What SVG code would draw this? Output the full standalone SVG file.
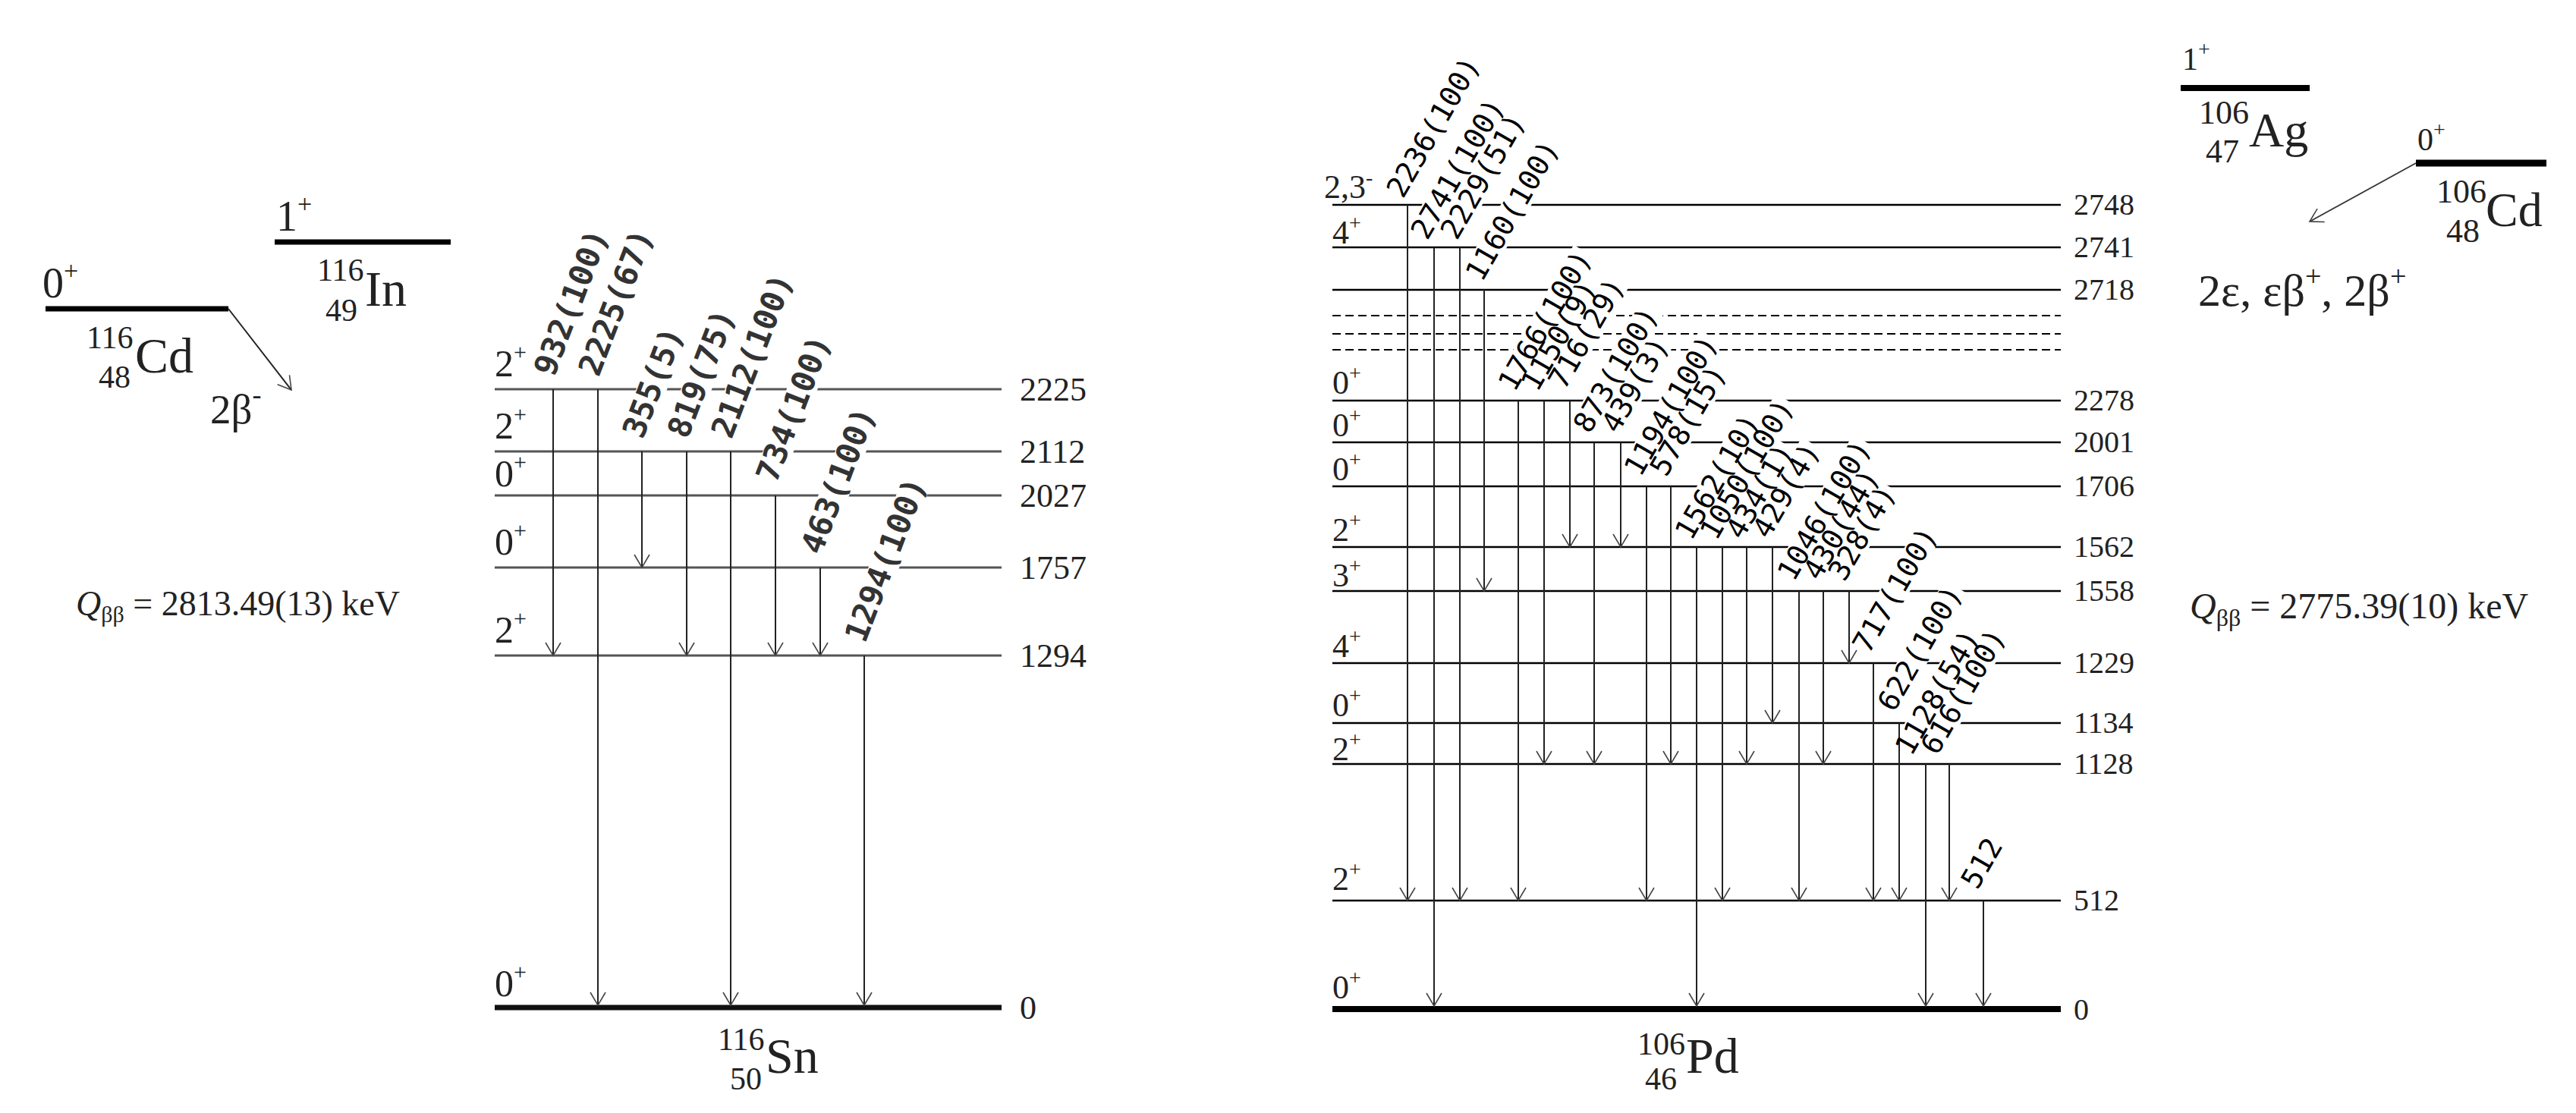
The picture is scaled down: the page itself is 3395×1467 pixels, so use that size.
<svg xmlns="http://www.w3.org/2000/svg" width="3395" height="1467" viewBox="0 0 3395 1467">
<style>
.bgw{fill:#fff}
.lvS{stroke:#555;stroke-width:3;fill:none}
.lvP{stroke:#000;stroke-width:2.5;fill:none}
.dsh{stroke:#000;stroke-width:2.2;stroke-dasharray:11 6;fill:none}
.gndS{stroke:#111;stroke-width:7}
.gndP{stroke:#000;stroke-width:8}
.thick{stroke:#000;stroke-width:7}
.tr{stroke:#222;stroke-width:2;fill:none;marker-end:url(#ah)}
.tm{font-family:"Liberation Serif","Times New Roman",serif;fill:#222}
.gS{font-family:"DejaVu Sans Mono","Liberation Mono",monospace;font-size:42px;font-weight:bold;fill:#333}
.gP{font-family:"DejaVu Sans Mono","Liberation Mono",monospace;font-size:38px;fill:#000}
.spS{font-size:50px}
.enS{font-size:44px}
.spP{font-size:44px}
.enP{font-size:40px}
</style>
<defs>
<marker id="ah" markerUnits="userSpaceOnUse" markerWidth="40" markerHeight="40" refX="0" refY="0" orient="auto" overflow="visible">
<path d="M-17,-10 L0,0 L-17,10" fill="none" stroke="#444" stroke-width="1.6"/>
</marker>
</defs>
<rect width="3395" height="1467" fill="#fff"/>

<!-- ===== 116Cd / 116In parents ===== -->
<g id="cd116">
<line class="thick" x1="60" y1="407" x2="301" y2="407"/>
<text class="tm" x="56" y="392" font-size="56">0<tspan font-size="34" dy="-24">+</tspan></text>
<text class="tm" font-size="42" x="114" y="459">116</text>
<text class="tm" font-size="66" x="178" y="491">Cd</text>
<text class="tm" font-size="42" x="130" y="511">48</text>
</g>
<g id="in116">
<line class="thick" x1="362" y1="319" x2="594" y2="319"/>
<text class="tm" x="364" y="304" font-size="56">1<tspan font-size="34" dy="-24">+</tspan></text>
<text class="tm" font-size="42" x="418" y="370">116</text>
<text class="tm" font-size="66" x="481" y="403">In</text>
<text class="tm" font-size="42" x="429" y="423">49</text>
</g>
<g id="decay116">
<line x1="301" y1="407" x2="384" y2="514" stroke="#222" stroke-width="2" marker-end="url(#ah)"/>
<text class="tm" x="277" y="558" font-size="55">2β<tspan font-size="36" dy="-26">-</tspan></text>
</g>
<g id="q116">
<text class="tm" x="100" y="811" font-size="46"><tspan font-style="italic">Q</tspan><tspan font-size="30" dy="9">ββ</tspan><tspan dy="-9"> = 2813.49(13) keV</tspan></text>
</g>

<!-- ===== 116Sn levels ===== -->
<g id="sn-2225"><line class="lvS" x1="652" y1="513" x2="1320" y2="513"/><text class="tm spS" x="652" y="496">2<tspan font-size="30" dy="-22">+</tspan></text><text class="tm enS" x="1344" y="528">2225</text></g>
<g id="sn-2112"><line class="lvS" x1="652" y1="595" x2="1320" y2="595"/><text class="tm spS" x="652" y="578">2<tspan font-size="30" dy="-22">+</tspan></text><text class="tm enS" x="1344" y="610">2112</text></g>
<g id="sn-2027"><line class="lvS" x1="652" y1="653" x2="1320" y2="653"/><text class="tm spS" x="652" y="641">0<tspan font-size="30" dy="-22">+</tspan></text><text class="tm enS" x="1344" y="668">2027</text></g>
<g id="sn-1757"><line class="lvS" x1="652" y1="748" x2="1320" y2="748"/><text class="tm spS" x="652" y="731">0<tspan font-size="30" dy="-22">+</tspan></text><text class="tm enS" x="1344" y="763">1757</text></g>
<g id="sn-1294"><line class="lvS" x1="652" y1="864" x2="1320" y2="864"/><text class="tm spS" x="652" y="847">2<tspan font-size="30" dy="-22">+</tspan></text><text class="tm enS" x="1344" y="879">1294</text></g>
<g id="sn-0"><line class="gndS" x1="652" y1="1328" x2="1320" y2="1328"/><text class="tm spS" x="652" y="1313">0<tspan font-size="30" dy="-22">+</tspan></text><text class="tm enS" x="1344" y="1343">0</text>
<text class="tm" font-size="42" x="946" y="1384">116</text>
<text class="tm" font-size="66" x="1009" y="1414">Sn</text>
<text class="tm" font-size="42" x="962" y="1436">50</text>
</g>

<!-- ===== 106Ag / 106Cd parents ===== -->
<g id="ag106">
<line x1="2874" y1="116" x2="3044" y2="116" stroke="#000" stroke-width="8"/>
<text class="tm" x="2876" y="92" font-size="42">1<tspan font-size="28" dy="-18">+</tspan></text>
<text class="tm" font-size="44" x="2898" y="163">106</text>
<text class="tm" font-size="64" x="2964" y="193">Ag</text>
<text class="tm" font-size="44" x="2907" y="214">47</text>
</g>
<g id="cd106">
<line x1="3184" y1="215" x2="3356" y2="215" stroke="#000" stroke-width="9"/>
<text class="tm" x="3186" y="198" font-size="42">0<tspan font-size="28" dy="-18">+</tspan></text>
<text class="tm" font-size="44" x="3211" y="267">106</text>
<text class="tm" font-size="64" x="3276" y="298">Cd</text>
<text class="tm" font-size="44" x="3224" y="319">48</text>
</g>
<g id="decay106">
<line x1="3184" y1="215" x2="3044" y2="292" stroke="#333" stroke-width="1.8" marker-end="url(#ah)"/>
<text class="tm" x="2897" y="403" font-size="60">2ε, εβ<tspan font-size="38" dy="-26">+</tspan><tspan dy="26">, 2β</tspan><tspan font-size="38" dy="-26">+</tspan></text>
</g>
<g id="q106">
<text class="tm" x="2886" y="815" font-size="48"><tspan font-style="italic">Q</tspan><tspan font-size="32" dy="10">ββ</tspan><tspan dy="-10"> = 2775.39(10) keV</tspan></text>
</g>

<!-- ===== 106Pd levels ===== -->
<g id="pd-2748"><line class="lvP" x1="1756" y1="270" x2="2716" y2="270"/><text class="tm spP" x="1745" y="261">2,3<tspan font-size="28" dy="-18">-</tspan></text><text class="tm enP" x="2733" y="283">2748</text></g>
<g id="pd-2741"><line class="lvP" x1="1756" y1="326" x2="2716" y2="326"/><text class="tm spP" x="1756" y="321">4<tspan font-size="28" dy="-18">+</tspan></text><text class="tm enP" x="2733" y="339">2741</text></g>
<g id="pd-2718"><line class="lvP" x1="1756" y1="382" x2="2716" y2="382"/><text class="tm enP" x="2733" y="395">2718</text></g>
<g id="pd-dashed"><line class="dsh" x1="1756" y1="416" x2="2716" y2="416"/><line class="dsh" x1="1756" y1="440" x2="2716" y2="440"/><line class="dsh" x1="1756" y1="461" x2="2716" y2="461"/></g>
<g id="pd-2278"><line class="lvP" x1="1756" y1="528" x2="2716" y2="528"/><text class="tm spP" x="1756" y="519">0<tspan font-size="28" dy="-18">+</tspan></text><text class="tm enP" x="2733" y="541">2278</text></g>
<g id="pd-2001"><line class="lvP" x1="1756" y1="583" x2="2716" y2="583"/><text class="tm spP" x="1756" y="575">0<tspan font-size="28" dy="-18">+</tspan></text><text class="tm enP" x="2733" y="596">2001</text></g>
<g id="pd-1706"><line class="lvP" x1="1756" y1="641" x2="2716" y2="641"/><text class="tm spP" x="1756" y="633">0<tspan font-size="28" dy="-18">+</tspan></text><text class="tm enP" x="2733" y="654">1706</text></g>
<g id="pd-1562"><line class="lvP" x1="1756" y1="721" x2="2716" y2="721"/><text class="tm spP" x="1756" y="713">2<tspan font-size="28" dy="-18">+</tspan></text><text class="tm enP" x="2733" y="734">1562</text></g>
<g id="pd-1558"><line class="lvP" x1="1756" y1="779" x2="2716" y2="779"/><text class="tm spP" x="1756" y="773">3<tspan font-size="28" dy="-18">+</tspan></text><text class="tm enP" x="2733" y="792">1558</text></g>
<g id="pd-1229"><line class="lvP" x1="1756" y1="874" x2="2716" y2="874"/><text class="tm spP" x="1756" y="866">4<tspan font-size="28" dy="-18">+</tspan></text><text class="tm enP" x="2733" y="887">1229</text></g>
<g id="pd-1134"><line class="lvP" x1="1756" y1="953" x2="2716" y2="953"/><text class="tm spP" x="1756" y="944">0<tspan font-size="28" dy="-18">+</tspan></text><text class="tm enP" x="2733" y="966">1134</text></g>
<g id="pd-1128"><line class="lvP" x1="1756" y1="1007" x2="2716" y2="1007"/><text class="tm spP" x="1756" y="1002">2<tspan font-size="28" dy="-18">+</tspan></text><text class="tm enP" x="2733" y="1020">1128</text></g>
<g id="pd-512"><line class="lvP" x1="1756" y1="1187" x2="2716" y2="1187"/><text class="tm spP" x="1756" y="1173">2<tspan font-size="28" dy="-18">+</tspan></text><text class="tm enP" x="2733" y="1200">512</text></g>
<g id="pd-0"><line class="gndP" x1="1756" y1="1330" x2="2716" y2="1330"/><text class="tm spP" x="1756" y="1316">0<tspan font-size="28" dy="-18">+</tspan></text><text class="tm enP" x="2733" y="1344">0</text>
<text class="tm" font-size="42" x="2158" y="1390">106</text>
<text class="tm" font-size="66" x="2222" y="1414">Pd</text>
<text class="tm" font-size="42" x="2168" y="1436">46</text>
</g>

<!-- label backgrounds (cut level lines) -->
<g id="label-backgrounds" class="bgw">
<rect x="-2" y="-32" width="206" height="38" transform="translate(730,498) rotate(-69)"/>
<rect x="-2" y="-32" width="206" height="38" transform="translate(789,498) rotate(-69)"/>
<rect x="-2" y="-32" width="156" height="38" transform="translate(847,580) rotate(-69)"/>
<rect x="-2" y="-32" width="181" height="38" transform="translate(906,580) rotate(-69)"/>
<rect x="-2" y="-32" width="232" height="38" transform="translate(964,580) rotate(-69)"/>
<rect x="-2" y="-32" width="206" height="38" transform="translate(1023,638) rotate(-69)"/>
<rect x="-2" y="-32" width="206" height="38" transform="translate(1082,733) rotate(-69)"/>
<rect x="-2" y="-32" width="232" height="38" transform="translate(1140,849) rotate(-69)"/>

<rect x="-2" y="-30" width="210" height="35" transform="translate(1849,263) rotate(-60)"/>
<rect x="-2" y="-30" width="210" height="35" transform="translate(1881,318) rotate(-60)"/>
<rect x="-2" y="-30" width="187" height="35" transform="translate(1920,318) rotate(-60)"/>
<rect x="-2" y="-30" width="210" height="35" transform="translate(1953,373) rotate(-60)"/>
<rect x="-2" y="-30" width="210" height="35" transform="translate(1996,518) rotate(-60)"/>
<rect x="-2" y="-30" width="164" height="35" transform="translate(2026,518) rotate(-60)"/>
<rect x="-2" y="-30" width="164" height="35" transform="translate(2062,515) rotate(-60)"/>
<rect x="-2" y="-30" width="187" height="35" transform="translate(2095,573) rotate(-60)"/>
<rect x="-2" y="-30" width="141" height="35" transform="translate(2132,573) rotate(-60)"/>
<rect x="-2" y="-30" width="210" height="35" transform="translate(2162,630) rotate(-60)"/>
<rect x="-2" y="-30" width="164" height="35" transform="translate(2196,630) rotate(-60)"/>
<rect x="-2" y="-30" width="187" height="35" transform="translate(2229,714) rotate(-60)"/>
<rect x="-2" y="-30" width="210" height="35" transform="translate(2262,714) rotate(-60)"/>
<rect x="-2" y="-30" width="141" height="35" transform="translate(2296,713) rotate(-60)"/>
<rect x="-2" y="-30" width="141" height="35" transform="translate(2331,712) rotate(-60)"/>
<rect x="-2" y="-30" width="210" height="35" transform="translate(2364,768) rotate(-60)"/>
<rect x="-2" y="-30" width="164" height="35" transform="translate(2398,767) rotate(-60)"/>
<rect x="-2" y="-30" width="141" height="35" transform="translate(2431,768) rotate(-60)"/>
<rect x="-2" y="-30" width="187" height="35" transform="translate(2463,863) rotate(-60)"/>
<rect x="-2" y="-30" width="187" height="35" transform="translate(2496,940) rotate(-60)"/>
<rect x="-2" y="-30" width="187" height="35" transform="translate(2519,998) rotate(-60)"/>
<rect x="-2" y="-30" width="187" height="35" transform="translate(2553,997) rotate(-60)"/>
<rect x="-2" y="-30" width="73" height="35" transform="translate(2606,1174) rotate(-60)"/>
</g>

<!-- transitions -->
<g id="connectors">
<line class="tr" x1="729" y1="513" x2="729" y2="864"/>
<line class="tr" x1="788" y1="513" x2="788" y2="1325"/>
<line class="tr" x1="846" y1="595" x2="846" y2="748"/>
<line class="tr" x1="905" y1="595" x2="905" y2="864"/>
<line class="tr" x1="963" y1="595" x2="963" y2="1325"/>
<line class="tr" x1="1022" y1="653" x2="1022" y2="864"/>
<line class="tr" x1="1081" y1="748" x2="1081" y2="864"/>
<line class="tr" x1="1139" y1="864" x2="1139" y2="1325"/>

<line class="tr" x1="1855" y1="270" x2="1855" y2="1187"/>
<line class="tr" x1="1890" y1="326" x2="1890" y2="1326"/>
<line class="tr" x1="1924" y1="326" x2="1924" y2="1187"/>
<line class="tr" x1="1956" y1="382" x2="1956" y2="779"/>
<line class="tr" x1="2001" y1="528" x2="2001" y2="1187"/>
<line class="tr" x1="2035" y1="528" x2="2035" y2="1007"/>
<line class="tr" x1="2069" y1="528" x2="2069" y2="721"/>
<line class="tr" x1="2101" y1="583" x2="2101" y2="1007"/>
<line class="tr" x1="2136" y1="583" x2="2136" y2="721"/>
<line class="tr" x1="2170" y1="641" x2="2170" y2="1187"/>
<line class="tr" x1="2202" y1="641" x2="2202" y2="1007"/>
<line class="tr" x1="2236" y1="721" x2="2236" y2="1326"/>
<line class="tr" x1="2270" y1="721" x2="2270" y2="1187"/>
<line class="tr" x1="2302" y1="721" x2="2302" y2="1007"/>
<line class="tr" x1="2336" y1="721" x2="2336" y2="953"/>
<line class="tr" x1="2371" y1="779" x2="2371" y2="1187"/>
<line class="tr" x1="2403" y1="779" x2="2403" y2="1007"/>
<line class="tr" x1="2437" y1="779" x2="2437" y2="874"/>
<line class="tr" x1="2469" y1="874" x2="2469" y2="1187"/>
<line class="tr" x1="2503" y1="953" x2="2503" y2="1187"/>
<line class="tr" x1="2538" y1="1007" x2="2538" y2="1326"/>
<line class="tr" x1="2569" y1="1007" x2="2569" y2="1187"/>
<line class="tr" x1="2614" y1="1187" x2="2614" y2="1326"/>
</g>

<!-- transition labels -->
<g id="connector-labels-sn" class="gS">
<text transform="translate(730,498) rotate(-69)">932(100)</text>
<text transform="translate(789,498) rotate(-69)">2225(67)</text>
<text transform="translate(847,580) rotate(-69)">355(5)</text>
<text transform="translate(906,580) rotate(-69)">819(75)</text>
<text transform="translate(964,580) rotate(-69)">2112(100)</text>
<text transform="translate(1023,638) rotate(-69)">734(100)</text>
<text transform="translate(1082,733) rotate(-69)">463(100)</text>
<text transform="translate(1140,849) rotate(-69)">1294(100)</text>
</g>
<g id="connector-labels-pd" class="gP">
<text transform="translate(1849,263) rotate(-60)">2236(100)</text>
<text transform="translate(1881,318) rotate(-60)">2741(100)</text>
<text transform="translate(1920,318) rotate(-60)">2229(51)</text>
<text transform="translate(1953,373) rotate(-60)">1160(100)</text>
<text transform="translate(1996,518) rotate(-60)">1766(100)</text>
<text transform="translate(2026,518) rotate(-60)">1150(9)</text>
<text transform="translate(2062,515) rotate(-60)">716(29)</text>
<text transform="translate(2095,573) rotate(-60)">873(100)</text>
<text transform="translate(2132,573) rotate(-60)">439(3)</text>
<text transform="translate(2162,630) rotate(-60)">1194(100)</text>
<text transform="translate(2196,630) rotate(-60)">578(15)</text>
<text transform="translate(2229,714) rotate(-60)">1562(10)</text>
<text transform="translate(2262,714) rotate(-60)">1050(100)</text>
<text transform="translate(2296,713) rotate(-60)">434(1)</text>
<text transform="translate(2331,712) rotate(-60)">429(4)</text>
<text transform="translate(2364,768) rotate(-60)">1046(100)</text>
<text transform="translate(2398,767) rotate(-60)">430(44)</text>
<text transform="translate(2431,768) rotate(-60)">328(4)</text>
<text transform="translate(2463,863) rotate(-60)">717(100)</text>
<text transform="translate(2496,940) rotate(-60)">622(100)</text>
<text transform="translate(2519,998) rotate(-60)">1128(54)</text>
<text transform="translate(2553,997) rotate(-60)">616(100)</text>
<text transform="translate(2606,1174) rotate(-60)">512</text>
</g>
</svg>
